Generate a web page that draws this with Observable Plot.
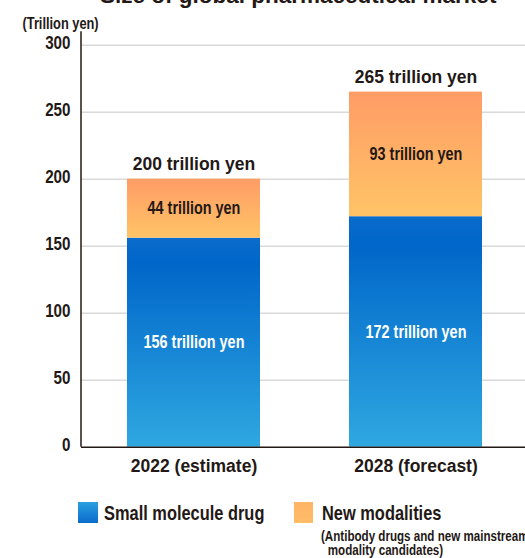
<!DOCTYPE html>
<html>
<head>
<meta charset="utf-8">
<script src="https://cdn.jsdelivr.net/npm/d3@7"></script>
<script src="https://cdn.jsdelivr.net/npm/@observablehq/plot@0.6"></script>
<style>
  html, body { margin: 0; padding: 0; background: #fff; }
  #wrap { position: relative; width: 525px; height: 558px; overflow: hidden; }
  #chart { position: absolute; left: 0; top: 0; }
  .title {
    position: absolute; left: 100px; top: -17.5px; line-height: 22px;
    font: bold 22.5px "Liberation Sans", Arial, sans-serif; color: #231815; white-space: nowrap;
  }
  .narrow {
    font-family: "Liberation Sans", Arial, sans-serif; font-weight: bold; color: #231815;
    white-space: nowrap; position: absolute; transform: scaleX(0.8); transform-origin: 0 0;
  }
  .swatch { position: absolute; width: 20px; height: 21px; }
</style>
</head>
<body>
<div id="wrap">
  <div id="chart"></div>
  <div class="title">Size of global pharmaceutical market</div>
  <div id="legend"></div>
</div>
<script>
// Market size by category, trillion yen
const categories = ["2022 (estimate)", "2028 (forecast)"];
const seriesNames = ["Small molecule drug", "New modalities"];
const seriesNote = ["(Antibody drugs and new mainstream", "modality candidates)"];
const smallMolecule = [156, 172];
const newModalities = [44, 93];
const yTicks = [0, 50, 100, 150, 200, 250, 300];
const unitLabel = "(Trillion yen)";

const ink = "#231815";
// Condensed labels: same face, squeezed horizontally after rendering
const narrowFont = '"Liberation Sans", Arial, sans-serif';
const boldFont = 'Liberation Sans, Arial, sans-serif';
const squeeze = 0.8;

// Stacked segments: small molecule at the bottom, new modalities above it
const rows = [];
categories.forEach((c, i) => {
  const vals = [smallMolecule[i], newModalities[i]];
  let base = 0;
  vals.forEach((v, j) => {
    rows.push({category: c, series: seriesNames[j], value: v, y1: base, y2: base + v});
    base += v;
  });
});
const totals = categories.map((c, i) => ({category: c, total: smallMolecule[i] + newModalities[i]}));
const fmt = v => `${v} trillion yen`;

// Vertical gradients for the bar fills
const gradients = () => {
  const defs = d3.create("svg:defs");
  const blue = defs.append("linearGradient").attr("id", "gradSmall").attr("x1", 0).attr("y1", 0).attr("x2", 0).attr("y2", 1);
  blue.append("stop").attr("offset", "0").attr("stop-color", "#0a6ccc");
  blue.append("stop").attr("offset", "0.12").attr("stop-color", "#0066c9");
  blue.append("stop").attr("offset", "1").attr("stop-color", "#2fa8e1");
  const orange = defs.append("linearGradient").attr("id", "gradNew").attr("x1", 0).attr("y1", 0).attr("x2", 0).attr("y2", 1);
  orange.append("stop").attr("offset", "0").attr("stop-color", "#ff9c66");
  orange.append("stop").attr("offset", "1").attr("stop-color", "#ffc466");
  return defs.node();
};

// Left axis line, from the top of the frame down to zero
const axisLine = (index, scales, values, dimensions) => {
  const g = d3.create("svg:g");
  g.append("line")
    .attr("x1", dimensions.marginLeft).attr("x2", dimensions.marginLeft)
    .attr("y1", dimensions.marginTop).attr("y2", scales.y(0))
    .attr("stroke", ink).attr("stroke-width", 1.5);
  return g.node();
};

const narrowText = {fontFamily: narrowFont, fontWeight: "bold", fontStyle: "normal"};

const plot = Plot.plot({
  width: 525,
  height: 480,
  marginLeft: 81,
  marginRight: 0,
  marginTop: 31.3,
  marginBottom: 33.3,
  x: {domain: categories, paddingInner: 0.4, paddingOuter: 0.2, align: 0.52, axis: null},
  y: {domain: [0, 310], axis: null},
  marks: [
    gradients,
    Plot.ruleY(yTicks.filter(d => d > 0), {stroke: "#d9d9d9", strokeWidth: 1.5}),
    Plot.barY(rows.filter(d => d.series === seriesNames[0]), {x: "category", y1: "y1", y2: "y2", fill: "url(#gradSmall)"}),
    Plot.barY(rows.filter(d => d.series === seriesNames[1]), {x: "category", y1: "y1", y2: "y2", fill: "url(#gradNew)"}),
    Plot.ruleY([0], {stroke: ink, strokeWidth: 1.5}),
    axisLine,
    // y tick labels
    Plot.text(yTicks, {y: d => d, frameAnchor: "left", textAnchor: "end", dx: -11, dy: -2, text: d => String(d),
      ...narrowText, fontSize: 19, fill: ink}),
    // unit label
    Plot.text([unitLabel], {frameAnchor: "top-left", textAnchor: "start", dx: -59, dy: -14, text: d => d,
      ...narrowText, fontSize: 16, fill: ink}),
    // category labels
    Plot.text(categories, {x: d => d, frameAnchor: "bottom", lineAnchor: "top", dy: 12, text: d => d,
      fontFamily: boldFont, fontWeight: "bold", fontSize: 17.5, fill: ink}),
    // segment values
    Plot.text(rows.filter(d => d.series === seriesNames[0]), {x: "category", y: d => (d.y1 + d.y2) / 2, text: d => fmt(d.value),
      ...narrowText, fontSize: 18, fill: "white"}),
    Plot.text(rows.filter(d => d.series === seriesNames[1]), {x: "category", y: d => (d.y1 + d.y2) / 2, text: d => fmt(d.value),
      ...narrowText, fontSize: 18, fill: ink}),
    // totals above the bars
    Plot.text(totals, {x: "category", y: "total", text: d => fmt(d.total), lineAnchor: "bottom", dy: -9,
      fontFamily: boldFont, fontWeight: "bold", fontSize: 17.5, fill: ink})
  ]
});
document.getElementById("chart").appendChild(plot);

// Squeeze the condensed labels horizontally (their groups carry font-style="normal")
d3.select(plot).selectAll("g[font-style='normal'] text").each(function() {
  const len = this.getComputedTextLength();
  this.setAttribute("textLength", len * squeeze);
  this.setAttribute("lengthAdjust", "spacingAndGlyphs");
});

// Legend below the chart
const legend = document.getElementById("legend");
legend.innerHTML = `
  <div class="swatch" style="left:78px; top:502px; background:linear-gradient(#2aa0e0, #0a6bcb);"></div>
  <div class="narrow" style="left:104px; top:503px; font-size:20.5px; line-height:20.5px;">${seriesNames[0]}</div>
  <div class="swatch" style="left:294px; top:502px; width:19px; background:linear-gradient(#ffb466, #ffbc66);"></div>
  <div class="narrow" style="left:322px; top:503px; font-size:20.5px; line-height:20.5px;">${seriesNames[1]}</div>
  <div class="narrow" style="left:321px; top:530px; font-size:14.5px; line-height:13.5px;">${seriesNote[0]}<br><span style="padding-left:8.5px">${seriesNote[1]}</span></div>
`;
</script>
</body>
</html>
